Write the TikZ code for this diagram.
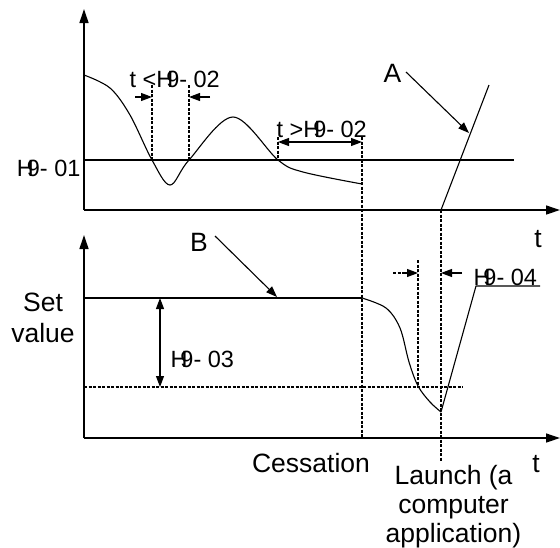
\documentclass[tikz,border=0pt]{standalone}
\usepackage{fontspec}
\setmainfont{Liberation Sans}
\usetikzlibrary{arrows.meta}
\newcommand\HnineX{H\kern-0.3em 9}
\begin{document}
\begin{tikzpicture}[x=1pt,y=-1pt,line width=1.1pt,line join=round,
  axis/.style={line width=1.3pt,-{Triangle[length=14pt,width=9pt]}},
  dimarr/.style={-{Triangle[length=11pt,width=8pt]}},
  ddim/.style={{Triangle[length=11pt,width=8pt]}-{Triangle[length=11pt,width=8pt]}},
  guide/.style={dash pattern=on 3pt off 1.5pt,line width=1.2pt},
  lbl/.style={font=\fontsize{26.5}{29}\selectfont,inner sep=0pt},
  hlbl/.style={font=\fontsize{23.5}{26}\selectfont,inner sep=0pt}]
\useasboundingbox (0,0) rectangle (560,547);

% coordinates
\coordinate (O1) at (84,210);
\coordinate (Y1) at (84,9);
\coordinate (X1) at (560,210);
\coordinate (O2) at (84,438);
\coordinate (Y2) at (84,235);
\coordinate (X2) at (560,438);

% top plot
\draw[axis] (O1) -- (Y1);
\draw[axis] (O1) -- (X1);
\draw (84,160) -- (514,160);
\draw plot[smooth,tension=0.55] coordinates {(84,75) (110,88) (130,115) (152,160) (170,185) (189,160) (233,117) (278,160) (303,172) (362,184)};
\draw[guide] (152,85) -- (152,160);
\draw[guide] (189,85) -- (189,160);
\draw[dimarr] (135,97) -- (152,97);
\draw[dimarr] (210,97) -- (189,97);
\draw[guide] (278,137) -- (278,160);
\draw[guide] (362,137) -- (362,438);
\draw[ddim] (278,142) -- (362,142);
\draw[guide] (441,210) -- (441,462);
\coordinate (Alow) at (441,210);
\coordinate (Ahigh) at (489,85);
\draw (Alow) -- (Ahigh);

\node[hlbl,anchor=base east] (h1) at (81,176) {\HnineX- 01};
\node[hlbl,anchor=base west] (h2a) at (129,87) {t <\HnineX- 02};
\node[hlbl,anchor=base west] (h2b) at (276,137) {t >\HnineX- 02};
\node[lbl,anchor=base] (A) at (392.5,82) {A};
\coordinate (Atip) at (469,133);
\draw[dimarr] (406,72) -- (Atip);
\node[lbl,anchor=base] (t1) at (538,247) {t};

% bottom plot
\draw[axis] (O2) -- (Y2);
\draw[axis] (O2) -- (X2);
\draw (84,298) -- (362,298);
\draw plot[smooth,tension=0.55] coordinates {(362,298) (386,308) (400,328) (409,362) (418,386) (430,402) (441,412)};
\draw (441,412) -- (476,286) -- (540,286);
\draw[guide] (84,387) -- (463,387);
\draw[guide] (418,260) -- (418,387);
\draw[guide] (393,273) -- (410,273);
\draw[dimarr] (405,273) -- (418,273);
\draw[dimarr] (462,273) -- (441,273);
\draw[ddim] (160,298) -- (160,387);

\node[lbl,anchor=base] (B) at (199,251) {B};
\coordinate (Btip) at (277,297);
\draw[dimarr] (215,236) -- (Btip);
\node[lbl,anchor=north,align=center,font=\fontsize{26.5}{31}\selectfont] (sv) at (43,292) {Set\\value};
\node[hlbl,anchor=base west] (h3) at (170,367) {\HnineX- 03};
\node[hlbl,anchor=base west] (h4) at (473,285) {\HnineX- 04};
\node[lbl,anchor=base] (cess) at (311,472) {Cessation};
\node[lbl,anchor=north,align=center] (launch) at (453.5,465) {Launch (a\\computer\\application)};
\node[lbl,anchor=base] (t2) at (536,472) {t};
\end{tikzpicture}
\end{document}
